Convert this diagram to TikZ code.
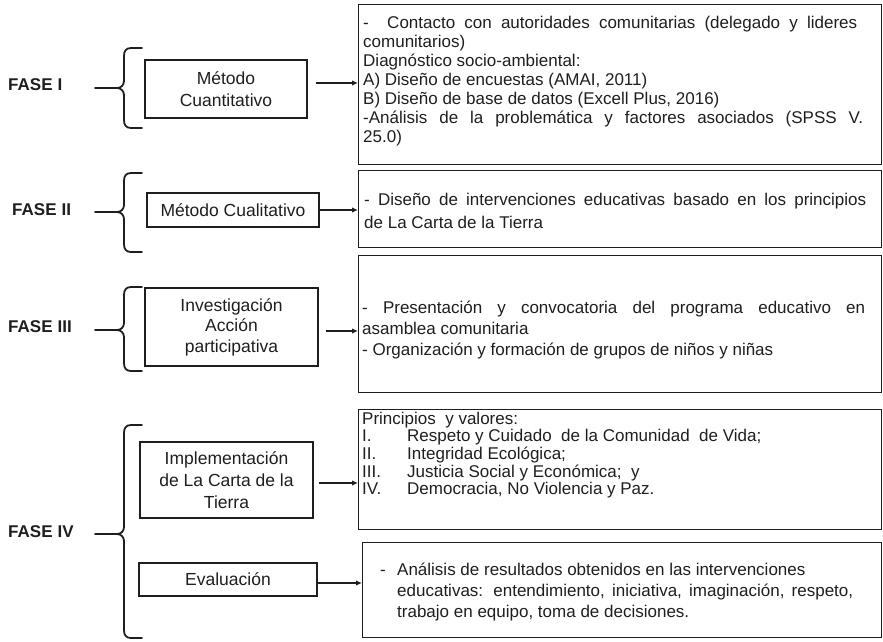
\documentclass[tikz,border=0pt]{standalone}
\usepackage{fontspec}
\setmainfont{Liberation Sans}
\usetikzlibrary{arrows.meta}
\definecolor{ink}{HTML}{1E1E1E}
\newcommand{\fasebrace}[3]{%
  \draw[brc] (142,#1) -- (131,#1) .. controls (126,#1) and (124,#1+3) .. (124,#1+8)
    -- (124,#2-7) .. controls (124,#2-3) and (121,#2) .. (117,#2)
    .. controls (121,#2) and (124,#2+3) .. (124,#2+7)
    -- (124,#3-8) .. controls (124,#3-3) and (126,#3) .. (131,#3) -- (142,#3);
  \draw[brc] (95,#2) -- (117,#2);}
\begin{document}
\begin{tikzpicture}[x=1pt,y=-1pt,
  rbox/.style={draw=ink, line width=1.4pt, inner sep=0, anchor=north west},
  lbox/.style={draw=ink, line width=1.4pt, align=center, inner sep=0,
     font=\fontsize{17.5}{21.5}\selectfont, text=ink},
  rtext/.style={anchor=base west, inner sep=0, text=ink},
  phase/.style={anchor=west, inner sep=0, text=ink, font=\bfseries\fontsize{17}{19}\selectfont},
  arr/.style={draw=ink, line width=1.5pt, -{Latex[length=6pt,width=5.5pt]}},
  brc/.style={draw=ink, line width=1.8pt, line cap=round, line join=round}]
\useasboundingbox (0,0) rectangle (883,641);

% phase labels
\node[phase] (f1) at (8,85) {FASE\hspace{5pt}I};
\node[phase] (f2) at (12,210) {FASE\hspace{5pt}II};
\node[phase] (f3) at (8,327) {FASE\hspace{5pt}III};
\node[phase] (f4) at (8,532) {FASE\hspace{5pt}IV};

% braces
\fasebrace{48}{88}{128}
\fasebrace{173}{212}{252}
\fasebrace{287}{330}{371}
\fasebrace{425}{534}{638}

% left boxes
\node[lbox, minimum width=162pt, minimum height=58pt] (bA) at (226,89) {Método\\Cuantitativo};
\node[lbox, minimum width=172pt, minimum height=34pt] (bB) at (233,210) {Método Cualitativo};
\node[lbox, minimum width=173pt, minimum height=78pt, font=\fontsize{17.5}{20.5}\selectfont] (bC) at (231.5,327) {Investigación\\Acción\\participativa};
\node[lbox, minimum width=173pt, minimum height=76pt, font=\fontsize{17.5}{22}\selectfont] (bD) at (226.5,480) {Implementación\\de La Carta de la\\Tierra};
\node[lbox, minimum width=178pt, minimum height=33pt] (bE) at (228,579.5) {Evaluación};

% right boxes
\node[rbox, minimum width=523pt, minimum height=160pt] (r1) at (358,4) {};
\node[rbox, minimum width=523pt, minimum height=77pt] (r2) at (358,170) {};
\node[rbox, minimum width=523pt, minimum height=137pt] (r3) at (358,255) {};
\node[rbox, minimum width=523pt, minimum height=120pt] (r4) at (358,409) {};
\node[rbox, minimum width=519pt, minimum height=95pt] (r5) at (362,542) {};

% right texts
\node[rtext] (t1) at (363,28) {\fontsize{17}{19}\selectfont
  \begin{tabular}[t]{@{}l@{}}
  \makebox[494pt][s]{-\ \ Contacto con autoridades comunitarias (delegado y lideres}\\
  comunitarios)\\
  Diagnóstico socio-ambiental:\\
  A) Diseño de encuestas (AMAI, 2011)\\
  B) Diseño de base de datos (Excell Plus, 2016)\\
  \makebox[500pt][s]{-Análisis de la problemática y factores asociados (SPSS V.}\\
  25.0)
  \end{tabular}};
\node[rtext] (t2) at (364,205) {\fontsize{17}{23}\selectfont
  \begin{tabular}[t]{@{}l@{}}
  \makebox[502pt][s]{- Diseño de intervenciones educativas basado en los principios}\\
  de La Carta de la Tierra
  \end{tabular}};
\node[rtext] (t3) at (362,313) {\fontsize{17}{21}\selectfont
  \begin{tabular}[t]{@{}l@{}}
  \makebox[503pt][s]{- Presentación y convocatoria del programa educativo en}\\
  asamblea comunitaria\\
  - Organización y formación de grupos de niños y niñas
  \end{tabular}};
\node[rtext] (t4) at (362,424) {\fontsize{17}{17.5}\selectfont
  \begin{tabular}[t]{@{}l@{}}
  Principios\ \ y valores:\\
  \makebox[45pt][l]{I.}Respeto y Cuidado\ \ de la Comunidad\ \ de Vida;\\
  \makebox[45pt][l]{II.}Integridad Ecológica;\\
  \makebox[45pt][l]{III.}Justicia Social y Económica;\ \ y\\
  \makebox[45pt][l]{IV.}Democracia, No Violencia y Paz.
  \end{tabular}};
\node[rtext] (t5) at (380,575) {\fontsize{17}{21}\selectfont
  \begin{tabular}[t]{@{}l@{}}
  \makebox[17pt][l]{-}Análisis de resultados obtenidos en las intervenciones\\
  \hspace*{17pt}\makebox[456pt][s]{educativas: entendimiento, iniciativa, imaginación, respeto,}\\
  \hspace*{17pt}trabajo en equipo, toma de decisiones.
  \end{tabular}};

% arrows
\coordinate (cA) at ([yshift=6pt]bA.east);
\coordinate (cB) at (bB.east);
\coordinate (cC) at ([yshift=-4pt]bC.east);
\coordinate (cD) at ([yshift=-3pt]bD.east);
\coordinate (cE) at ([yshift=-3.5pt]bE.east);
\draw[arr, shorten <=8pt] (cA) -- (cA -| r1.west);
\draw[arr] (cB) -- (cB -| r2.west);
\draw[arr, shorten <=7pt] (cC) -- (cC -| r3.west);
\draw[arr, shorten <=5pt] (cD) -- (cD -| r4.west);
\draw[arr] (cE) -- (cE -| r5.west);
\end{tikzpicture}
\end{document}
